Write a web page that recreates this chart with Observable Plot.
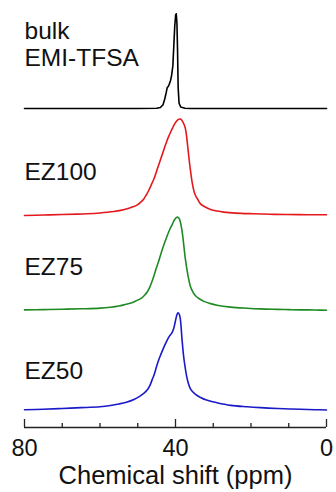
<!DOCTYPE html>
<html><head><meta charset="utf-8">
<script src="https://cdn.jsdelivr.net/npm/d3@7"></script>
<script src="https://cdn.jsdelivr.net/npm/@observablehq/plot@0.6"></script>
<style>html,body{margin:0;padding:0;background:#fff;} svg{display:block}</style>
</head><body><div id="chart"></div>
<script>
// Series labels and colours
const seriesNames = ["bulk\nEMI-TFSA", "EZ100", "EZ75", "EZ50"];
const seriesColors = ["#000000", "#e3191e", "#1f8a24", "#1a1ac8"];
// Stacking offsets (baseline) and peak heights in plot units
const seriesOffsets = [319, 212, 117.3, 17.5];
const seriesHeights = [94.7, 96.5, 93, 97.2];
const labelLift = [43, 35.5, 35, 31.2];

// [chemical shift (ppm), normalized intensity]
const bulk = [[80,0],[60,0],[50,0],[45,0.002],[44,0.01],[43.3,0.04],[42.85,0.1],[42.45,0.17],[42.2,0.22],[41.8,0.24],[41.35,0.29],[41.05,0.345],[40.7,0.45],[40.45,0.66],[40.2,0.87],[39.95,0.99],[39.8,1.0],[39.62,0.9],[39.45,0.6],[39.3,0.22],[39.05,0.055],[38.6,0.015],[37.5,0.003],[36,0],[20,0],[0,0]];
const ez100 = [[80,0],[75,0.005],[70,0.01],[66,0.014],[63.4,0.018],[60,0.026],[58,0.033],[56.3,0.041],[54.5,0.053],[52.8,0.069],[51.3,0.09],[50.1,0.11],[49.2,0.138],[48.4,0.172],[47.7,0.215],[47.1,0.259],[46.4,0.32],[45.7,0.38],[44.8,0.484],[43.9,0.588],[43.1,0.68],[42.4,0.76],[41.8,0.82],[41.1,0.88],[40.5,0.93],[39.9,0.97],[39.4,0.99],[38.9,1.0],[38.5,0.995],[38.0,0.965],[37.6,0.93],[37.35,0.895],[37.0,0.8],[36.7,0.69],[36.2,0.518],[35.6,0.345],[35.1,0.25],[34.7,0.207],[34.0,0.16],[33.4,0.121],[32,0.085],[30.7,0.062],[29,0.046],[27.2,0.035],[24,0.025],[19.3,0.018],[15,0.013],[10.5,0.01],[5,0.008],[0,0.007]];
const ez75 = [[80,0.003],[75,0.006],[70,0.01],[65,0.015],[60,0.022],[57.2,0.032],[55,0.045],[53.7,0.057],[52,0.075],[50.5,0.1],[49,0.13],[48.2,0.16],[47.5,0.195],[46.9,0.24],[46.3,0.3],[45.7,0.37],[45.1,0.45],[44.5,0.52],[44,0.588],[43.1,0.7],[42.2,0.8],[41.5,0.87],[40.9,0.92],[40.3,0.97],[39.8,0.995],[39.4,1.0],[39.0,0.985],[38.7,0.945],[38.3,0.86],[38.0,0.77],[37.4,0.555],[36.7,0.375],[36,0.25],[35.3,0.19],[34.7,0.155],[33.6,0.12],[32.5,0.095],[30.5,0.068],[29,0.053],[25.4,0.033],[21,0.021],[17.5,0.014],[13,0.009],[10,0.006],[6.9,0.004],[3,0.002],[0,0]];
const ez50 = [[80,0.002],[75,0.008],[70,0.016],[65,0.024],[60,0.034],[57.2,0.047],[55,0.062],[53,0.08],[51,0.108],[49.5,0.14],[48.4,0.17],[47.4,0.21],[46.8,0.25],[46.2,0.31],[45.6,0.37],[45,0.45],[44.5,0.51],[44,0.56],[43.1,0.645],[42.2,0.72],[41.6,0.76],[41,0.79],[40.5,0.835],[40.1,0.9],[39.7,0.97],[39.35,1.0],[39,0.985],[38.7,0.93],[38.3,0.74],[37.9,0.57],[37.6,0.48],[36.9,0.32],[36,0.215],[34.7,0.16],[33.4,0.13],[32,0.105],[29,0.075],[25.4,0.048],[21,0.033],[17.5,0.024],[13,0.015],[10,0.011],[6.9,0.007],[3,0.003],[0,0]];
const spectra = [bulk, ez100, ez75, ez50];

// Axis ticks
const majorTicks = [80, 40, 0];
const minorTicks = [70, 60, 50, 30, 20, 10];
const xTitle = "Chemical shift (ppm)";

const lineMarks = spectra.map((s, i) => Plot.line(
  s.map(([ppm, v]) => ({ppm, y: seriesOffsets[i] + seriesHeights[i] * v})),
  {x: "ppm", y: "y", stroke: seriesColors[i], strokeWidth: 1.6,
   curve: i === 0 ? "linear" : "catmull-rom"}
));
const labels = seriesNames.map((name, i) => ({name, x: 80, y: seriesOffsets[i] + labelLift[i]}));

const chart = Plot.plot({
  width: 336, height: 492,
  marginLeft: 24, marginRight: 10, marginTop: 0, marginBottom: 65,
  x: {domain: [80, 0]},
  y: {domain: [0, 427], axis: null},
  style: {fontFamily: "'Liberation Sans', Arial, sans-serif", background: "#fff", color: "#111"},
  marks: [
    ...lineMarks,
    Plot.text(labels, {x: "x", y: "y", text: "name", textAnchor: "start", lineAnchor: "bottom", fontSize: 24.5, lineHeight: 1.1, fill: "#111"}),
    Plot.ruleY([0], {stroke: "#222", strokeWidth: 1.3}),
    Plot.axisX({ticks: majorTicks, tickSize: -8, fill: "none", label: null, stroke: "#222", strokeWidth: 1.3}),
    Plot.axisX({ticks: minorTicks, tickSize: -4, fill: "none", label: null, stroke: "#222", strokeWidth: 1.3}),
    Plot.axisX({ticks: majorTicks, tickSize: 0, tickPadding: 12, fontSize: 23.5, label: null, fill: "#111"}),
    Plot.text([xTitle], {frameAnchor: "bottom", dy: 56.5, lineAnchor: "bottom", fontSize: 25.5, fill: "#111"})
  ]
});
document.getElementById("chart").appendChild(chart);
</script>
</body></html>
